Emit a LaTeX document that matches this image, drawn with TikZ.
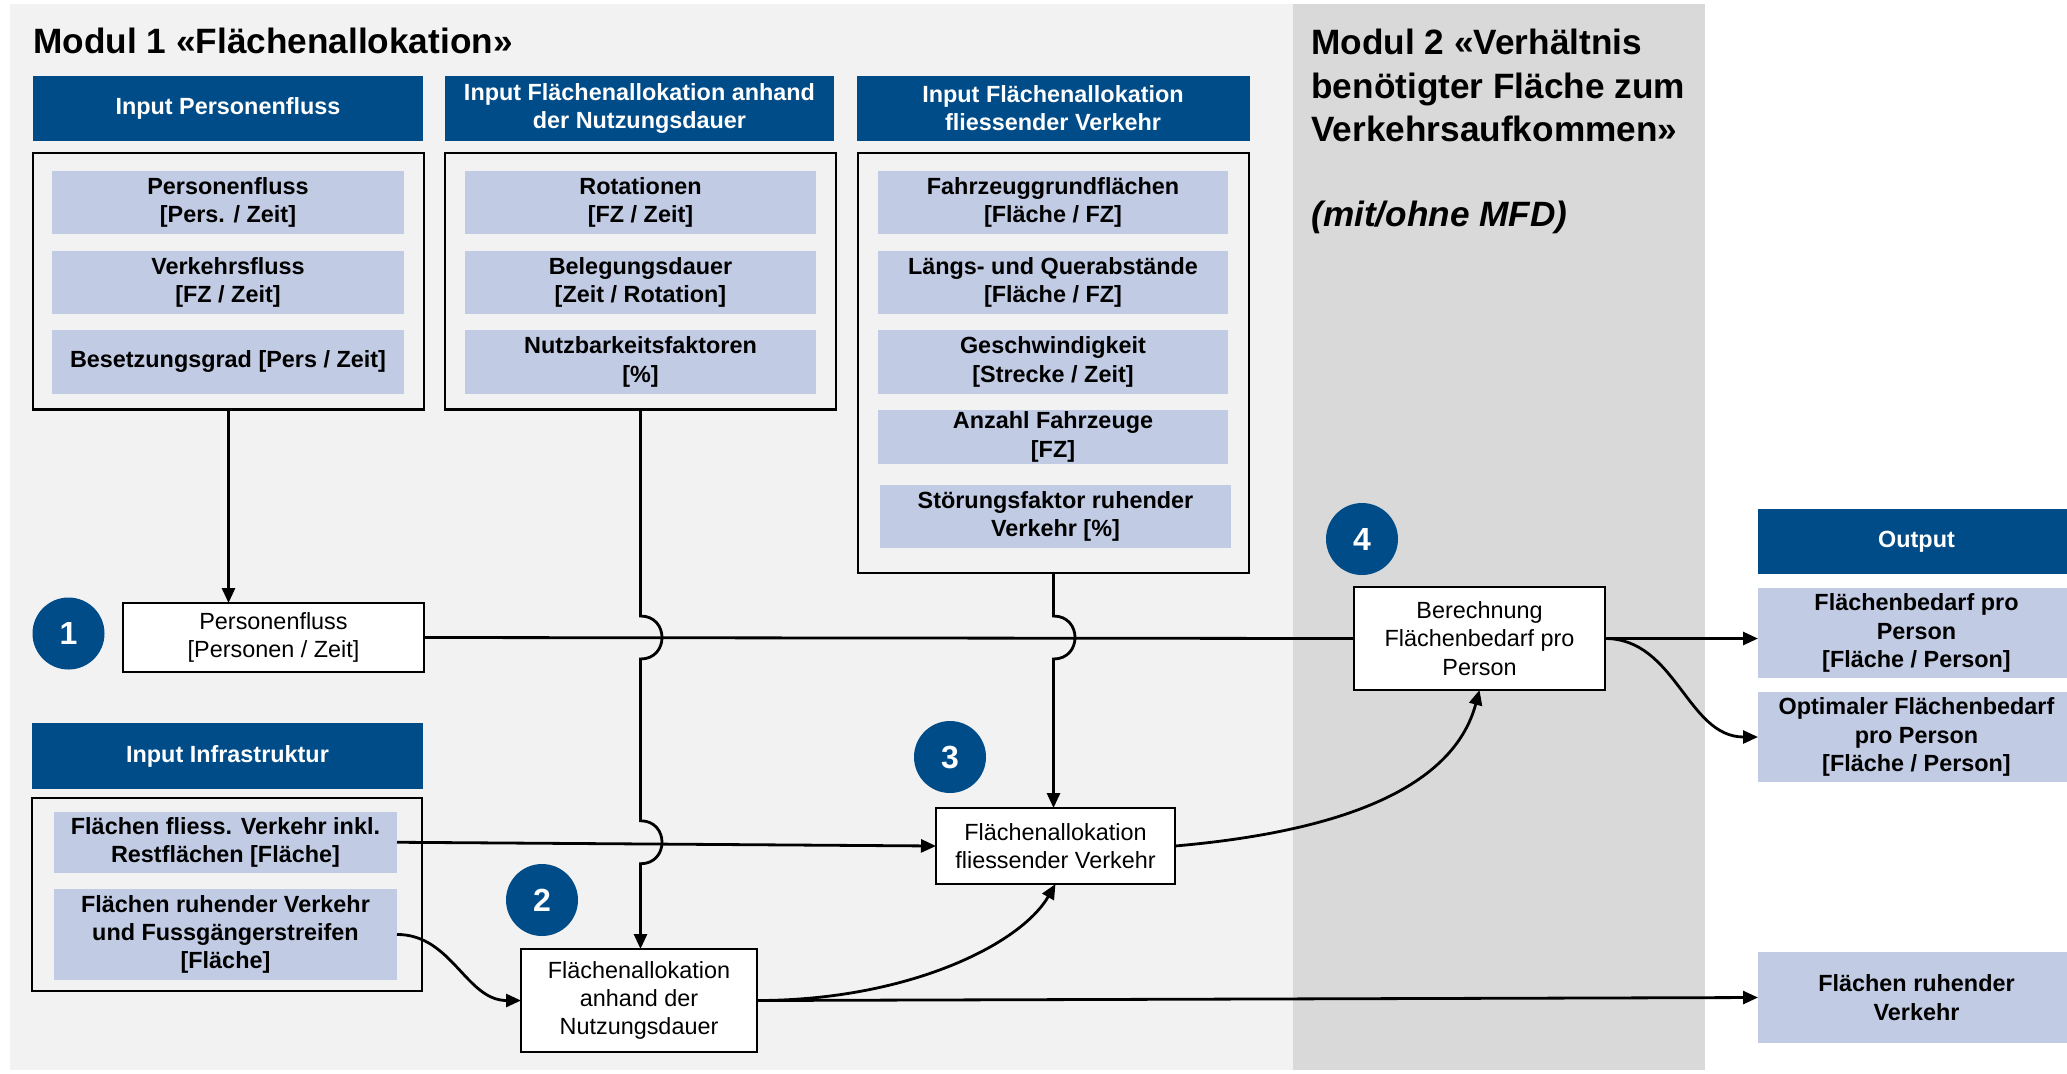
\documentclass[tikz,border=0pt]{standalone}
\usepackage{fontspec}
\setmainfont{Liberation Sans}
\usetikzlibrary{arrows.meta,calc}
\definecolor{hblue}{HTML}{004C89}
\definecolor{ilav}{HTML}{C1CBE3}
\definecolor{bgA}{HTML}{F2F2F2}
\definecolor{bgB}{HTML}{D9D9D9}
\newcommand\myfs{\fontsize{11.7}{14.2}\selectfont}
\newcommand\bigfs{\fontsize{17.6}{21.6}\selectfont}
\newcommand\bx[7]{\node[#1,minimum width={(#5-#3)*0.5pt},minimum height={(#6-#4)*0.5pt}] (#2) at ({(#3+#5)/2},{(#4+#6)/2}) {#7};}
\begin{document}
\begin{tikzpicture}[x=0.5pt,y=-0.5pt,
  hdr/.style={fill=hblue,text=white,font=\bfseries\myfs,align=center,inner sep=0pt,outer sep=0pt},
  item/.style={fill=ilav,font=\bfseries\myfs,align=center,inner sep=0pt,outer sep=0pt},
  frame/.style={draw,line width=1.2pt,inner sep=0pt,outer sep=0pt},
  proc/.style={draw,fill=white,line width=1.2pt,font=\myfs,align=center,inner sep=0pt,outer sep=0pt},
  num/.style={circle,fill=hblue,text=white,font=\bfseries\fontsize{16}{16}\selectfont,minimum size=36pt,inner sep=0pt},
  ln/.style={line width=1.4pt},
  arr/.style={line width=1.4pt,-{Triangle[length=7.5pt,width=6.5pt]}},
  ttl/.style={font=\bfseries\bigfs,align=left,inner sep=0pt,anchor=north west}
]
\useasboundingbox (0,0) rectangle (2067,1073);
\clip (0,0) rectangle (2067,1073);
\fill[bgA] (10,4) rectangle (1293,1070);
\fill[bgB] (1293,4) rectangle (1705,1070);

\node[ttl] (t1) at (33,28) {Modul 1 «Flächenallokation»};
\node[ttl] (t2) at (1311,29) {Modul 2 «Verhältnis\\benötigter Fläche zum\\Verkehrsaufkommen»};
\node[ttl,font=\bfseries\itshape\bigfs] (t3) at (1311,201) {(mit/ohne MFD)};

% headers
\bx{hdr}{h1}{33}{75.5}{423}{141}{Input Personenfluss}
\bx{hdr}{h2}{445}{75.5}{834}{141}{Input Flächenallokation anhand\\der Nutzungsdauer}
\bx{hdr}{h3}{856.5}{75.5}{1249.5}{141}{Input Flächenallokation\\fliessender Verkehr}
\bx{hdr}{hi}{32}{723}{423}{789}{Input Infrastruktur}
\bx{hdr}{ho}{1758}{509}{2075}{574}{Output}

% frames
\bx{frame}{b1}{33}{153}{424}{409.5}{}
\bx{frame}{b2}{445}{153}{836}{409.5}{}
\bx{frame}{b3}{858}{153}{1249}{573}{}
\bx{frame}{bi}{32}{798}{422}{991}{}

% items box 1
\bx{item}{i11}{52}{171}{404}{233.5}{Personenfluss\\{}[Pers. / Zeit]}
\bx{item}{i12}{52}{251}{404}{314}{Verkehrsfluss\\{}[FZ / Zeit]}
\bx{item}{i13}{52}{330}{404}{393.5}{Besetzungsgrad [Pers / Zeit]}
% items box 2
\bx{item}{i21}{465}{171}{816}{233.5}{Rotationen\\{}[FZ / Zeit]}
\bx{item}{i22}{465}{251}{816}{314}{Belegungsdauer\\{}[Zeit / Rotation]}
\bx{item}{i23}{465}{330}{816}{393.5}{Nutzbarkeitsfaktoren\\{}[\%]}
% items box 3
\bx{item}{i31}{878}{171}{1228}{233.5}{Fahrzeuggrundflächen\\{}[Fläche / FZ]}
\bx{item}{i32}{878}{251}{1228}{314}{Längs- und Querabstände\\{}[Fläche / FZ]}
\bx{item}{i33}{878}{330}{1228}{393.5}{Geschwindigkeit\\{}[Strecke / Zeit]}
\bx{item}{i34}{878}{409.5}{1228}{464}{Anzahl Fahrzeuge\\{}[FZ]}
\bx{item}{i35}{880}{485}{1231}{548}{Störungsfaktor ruhender\\Verkehr [\%]}
% infra items
\bx{item}{ia1}{54}{811.5}{397}{873}{Flächen fliess. Verkehr inkl.\\Restflächen [Fläche]}
\bx{item}{ia2}{54}{888.6}{397}{980.3}{Flächen ruhender Verkehr\\und Fussgängerstreifen\\{}[Fläche]}
% outputs
\bx{item}{o1}{1758}{588}{2075}{678}{Flächenbedarf pro\\Person\\{}[Fläche / Person]}
\bx{item}{o2}{1758}{692}{2075}{782}{Optimaler Flächenbedarf\\pro Person\\{}[Fläche / Person]}
\bx{item}{o3}{1758}{952}{2075}{1043}{Flächen ruhender\\Verkehr}

% process boxes
\bx{proc}{p1}{123}{603}{424}{672}{Personenfluss\\{}[Personen / Zeit]}
\bx{proc}{f2}{521}{949}{757}{1052}{Flächenallokation\\anhand der\\Nutzungsdauer}
\bx{proc}{f3}{936}{808}{1175}{884}{Flächenallokation\\fliessender Verkehr}
\bx{proc}{be}{1354}{587}{1605}{690}{Berechnung\\Flächenbedarf pro\\Person}

% number circles
\node[num] (n1) at (68.5,633.5) {1};
\node[num] (n2) at (542,900) {2};
\node[num] (n3) at (950,757) {3};
\node[num] (n4) at (1362,539) {4};

% connectors
\coordinate (j1) at (b2.south |- p1.east);
\coordinate (j2) at (b2.south |- ia1.east);
\coordinate (j3) at (b3.south |- p1.east);
\draw[arr] (b1.south) -- (b1.south |- p1.north);
\draw[arr] (b2.south) -- ($(j1)+(0,-21.5)$) .. controls ($(j1)+(28.7,-21.5)$) and ($(j1)+(28.7,21.5)$) .. ($(j1)+(0,21.5)$)
  -- ($(j2)+(0,-21.5)$) .. controls ($(j2)+(28.7,-21.5)$) and ($(j2)+(28.7,21.5)$) .. ($(j2)+(0,21.5)$)
  -- (b2.south |- f2.north);
\draw[arr] (b3.south) -- ($(j3)+(0,-21.5)$) .. controls ($(j3)+(28.7,-21.5)$) and ($(j3)+(28.7,21.5)$) .. ($(j3)+(0,21.5)$)
  -- (b3.south |- f3.north);
\draw[ln] (p1.east) -- (be.west);
\draw[arr] (ia1.east) -- (f3.west);
\draw[arr] (ia2.east) to[out=0,in=180] (f2.west);
\draw[arr] (f2.east) to[out=0,in=-120,out looseness=1.2,in looseness=0.56] (f3.south);
\draw[arr] (f2.east) -- (o3.west);
\draw[arr] (f3.east) to[out=5,in=-105,out looseness=1.27,in looseness=0.75] (be.south);
\draw[arr] (be.east) -- (be.east -| o1.west);
\draw[arr] (be.east) to[out=0,in=180] (o2.west);
\end{tikzpicture}
\end{document}
